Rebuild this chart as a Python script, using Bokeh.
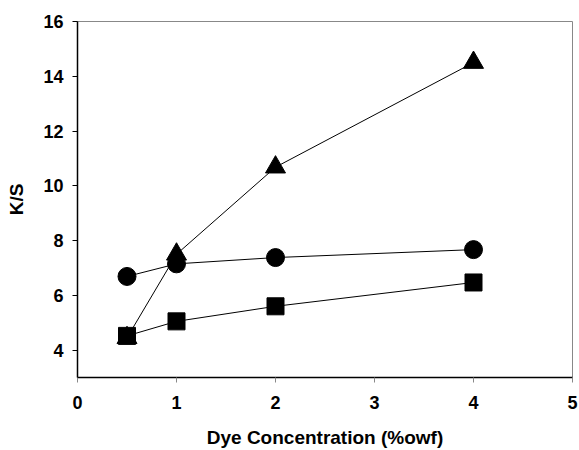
from bokeh.plotting import figure
from bokeh.models import Range1d, FixedTicker
from bokeh.embed import file_html
from bokeh.resources import INLINE

# Dye concentration (%owf) and K/S values for the three series
conc = [0.5, 1, 2, 4]
ks_triangle = [4.45, 7.5, 10.68, 14.5]
ks_circle = [6.69, 7.15, 7.38, 7.67]
ks_square = [4.52, 5.05, 5.6, 6.47]

x_ticks = [0, 1, 2, 3, 4, 5]
y_ticks = [4, 6, 8, 10, 12, 14, 16]

FONT = "Liberation Sans"

p = figure(width=579, height=450, output_backend="svg", toolbar_location=None,
           x_range=Range1d(0, 5), y_range=Range1d(3, 16),
           min_border_left=77, min_border_right=7, min_border_top=21, min_border_bottom=72)

p.background_fill_color = "white"
p.border_fill_color = "white"
p.outline_line_color = "#888888"
p.outline_line_width = 1
p.xgrid.visible = False
p.ygrid.visible = False

for ax, ticks in ((p.xaxis[0], x_ticks), (p.yaxis[0], y_ticks)):
    ax.ticker = FixedTicker(ticks=ticks)
    ax.minor_tick_line_color = None
    ax.major_tick_out = 5
    ax.major_tick_in = 0
    ax.axis_line_color = "black"
    ax.axis_line_width = 1.5
    ax.major_label_text_font = FONT
    ax.major_label_text_font_style = "bold"
    ax.major_label_text_font_size = "18px"
    ax.major_label_text_color = "black"
    ax.axis_label_text_font = FONT
    ax.axis_label_text_font_style = "bold"
    ax.axis_label_text_font_size = "19px"
    ax.axis_label_text_color = "black"

p.xaxis.major_tick_line_color = "#888888"
p.yaxis.major_tick_line_color = "black"
p.xaxis.major_label_standoff = 13
p.yaxis.major_label_standoff = 9
p.xaxis.axis_label = "Dye Concentration (%owf)"
p.yaxis.axis_label = "K/S"
p.xaxis.axis_label_standoff = 15
p.yaxis.axis_label_standoff = 13

# triangle series first so the other markers sit on top where they overlap
p.line(conc, ks_triangle, line_color="black", line_width=1)
p.scatter(conc, ks_triangle, marker="triangle", size=20, fill_color="black", line_color="black")

p.line(conc, ks_circle, line_color="black", line_width=1)
p.scatter(conc, ks_circle, marker="circle", size=18, fill_color="black", line_color="black")

p.line(conc, ks_square, line_color="black", line_width=1)
p.scatter(conc, ks_square, marker="square", size=17, fill_color="black", line_color="black")

open("out.html", "w").write(file_html(p, INLINE))
